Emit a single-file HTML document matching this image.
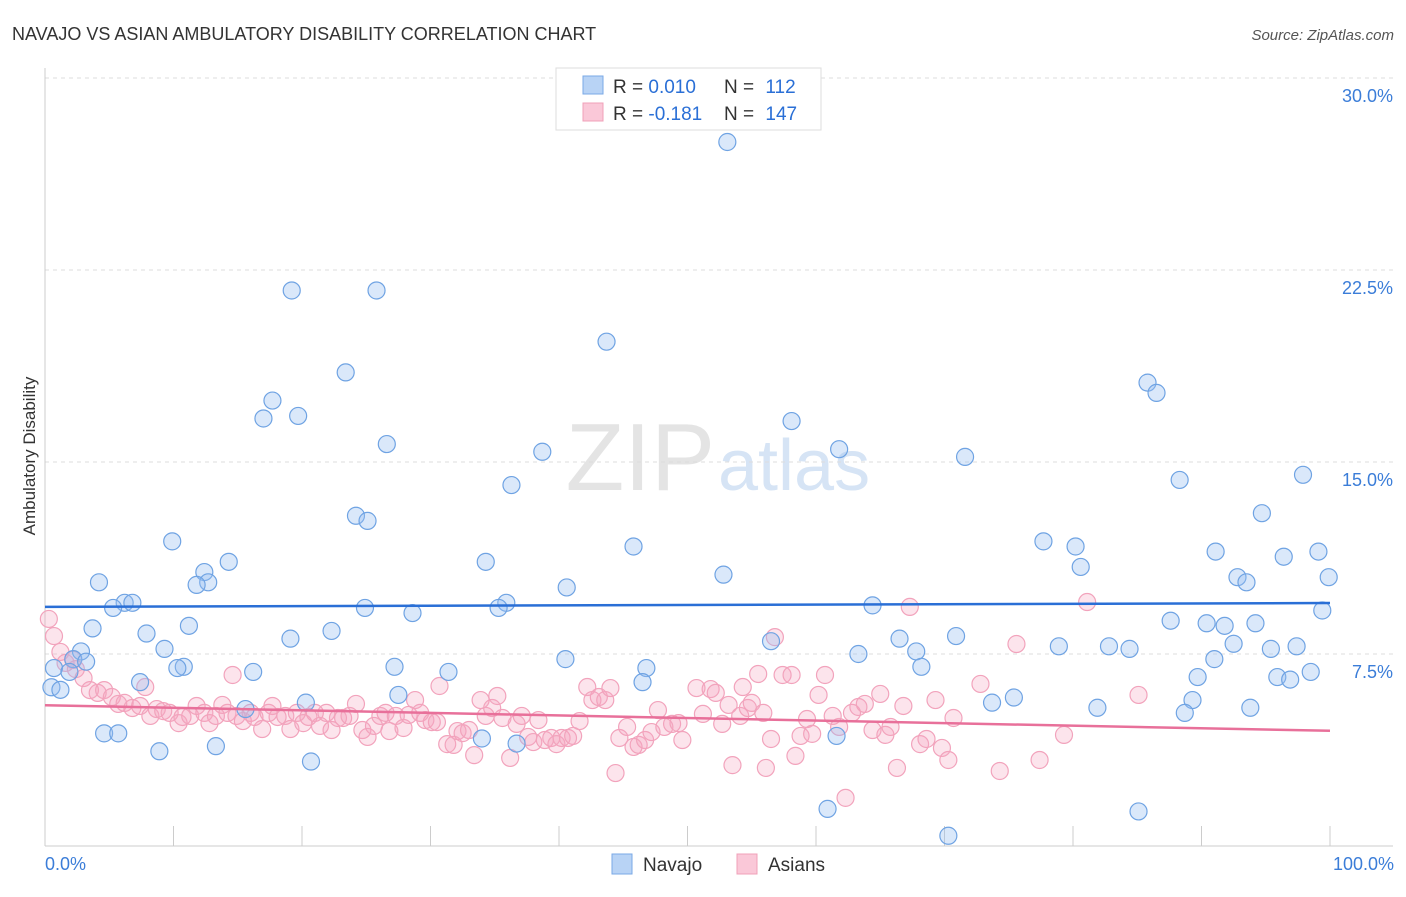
<!DOCTYPE html>
<html><head><meta charset="utf-8"><style>
body{margin:0;background:#fff;font-family:"Liberation Sans",sans-serif;}
svg text{font-family:"Liberation Sans",sans-serif;}
</style></head><body>
<svg id="chart" width="1406" height="892" xmlns="http://www.w3.org/2000/svg">
<text x="12" y="40" font-size="18" fill="#333">NAVAJO VS ASIAN AMBULATORY DISABILITY CORRELATION CHART</text>
<text x="1394" y="40" font-size="15" fill="#555" font-style="italic" text-anchor="end">Source: ZipAtlas.com</text>
<text x="715" y="490" font-size="96" fill="#e4e4e4" font-family="Liberation Serif" text-anchor="end">ZIP</text>
<text x="718" y="490" font-size="72" fill="#d6e4f5">atlas</text>
<g id="grid"></g>
<g id="axes"></g>
<g id="marks"></g>
<text x="35" y="456" font-size="17" fill="#333" text-anchor="middle" transform="rotate(-90 35 456)">Ambulatory Disability</text>
<text x="45" y="870" font-size="18" fill="#3b7dd8">0.0%</text>
<text x="1394" y="870" font-size="18" fill="#3b7dd8" text-anchor="end">100.0%</text>
<g>
<rect x="556" y="68" width="265" height="62" fill="#fff" stroke="#ddd"/>
<rect x="583" y="76" width="20" height="18" fill="#b8d3f5" stroke="#7aa8e6"/>
<rect x="583" y="103" width="20" height="18" fill="#fac8d8" stroke="#f0a0b8"/>
<text x="613" y="93" font-size="19" fill="#333">R = <tspan fill="#2a6fd6">0.010</tspan></text>
<text x="724" y="93" font-size="19" fill="#333">N = <tspan fill="#2a6fd6" dx="6">112</tspan></text>
<text x="613" y="120" font-size="19" fill="#333">R = <tspan fill="#2a6fd6">-0.181</tspan></text>
<text x="724" y="120" font-size="19" fill="#333">N = <tspan fill="#2a6fd6" dx="6">147</tspan></text>
</g>
<g>
<rect x="612" y="854" width="20" height="20" fill="#b8d3f5" stroke="#7aa8e6"/>
<text x="643" y="871" font-size="19" fill="#333">Navajo</text>
<rect x="737" y="854" width="20" height="20" fill="#fac8d8" stroke="#f0a0b8"/>
<text x="768" y="871" font-size="19" fill="#333">Asians</text>
</g>
</svg>
<script>
const yTicks=[7.5,15,22.5,30];
const yTickLabels=["7.5%","15.0%","22.5%","30.0%"];
const xTicks=[10,20,30,40,50,60,70,80,90,100];
const navajoX=[53.1,19.2,25.8,43.7,23.4,85.8,86.5,17.7,17.0,19.7,58.1,26.6,38.7,61.8,71.6,97.9,88.3,36.3,24.2,25.1,94.7,9.9,77.7,80.2,45.8,91.1,96.4,99.1,34.3,14.3,80.6,12.4,52.8,99.9,92.8,93.5,12.7,4.2,11.8,40.6,6.2,6.8,5.3,24.9,35.9,35.3,64.4,28.6,99.4,87.6,90.4,94.2,91.8,3.7,11.2,22.3,7.9,19.1,70.9,66.5,56.5,92.5,82.8,84.4,78.9,95.4,97.4,9.3,67.8,2.8,63.3,91.0,2.2,3.2,40.5,10.8,10.3,27.2,68.2,16.2,31.4,46.8,0.7,1.9,95.9,96.9,98.5,89.7,46.5,7.4,0.5,1.2,27.5,75.4,89.3,73.7,20.3,15.6,93.8,81.9,88.7,4.6,5.7,34.0,36.7,61.6,13.3,8.9,20.7,60.9,85.1,70.3];
const navajoY=[27.5,21.7,21.7,19.7,18.5,18.1,17.7,17.4,16.7,16.8,16.6,15.7,15.4,15.5,15.2,14.5,14.3,14.1,12.9,12.7,13.0,11.9,11.9,11.7,11.7,11.5,11.3,11.5,11.1,11.1,10.9,10.7,10.6,10.5,10.5,10.3,10.3,10.3,10.2,10.1,9.5,9.5,9.3,9.3,9.5,9.3,9.4,9.1,9.2,8.8,8.7,8.7,8.6,8.5,8.6,8.4,8.3,8.1,8.2,8.1,8.0,7.9,7.8,7.7,7.8,7.7,7.8,7.7,7.6,7.6,7.5,7.3,7.3,7.2,7.3,7.0,6.95,7.0,7.0,6.8,6.8,6.95,6.95,6.8,6.6,6.5,6.8,6.6,6.4,6.4,6.2,6.1,5.9,5.8,5.7,5.6,5.6,5.35,5.4,5.4,5.2,4.4,4.4,4.2,4.0,4.3,3.9,3.7,3.3,1.45,1.35,0.4];
const asianX=[0.3,0.7,1.2,1.6,2.2,2.4,3.0,3.5,4.1,4.6,5.2,5.7,6.2,6.8,7.4,7.8,8.2,8.7,9.2,9.7,10.4,10.7,11.3,11.8,12.4,12.8,13.3,13.8,14.2,14.6,14.9,15.4,16.0,16.3,16.9,17.4,17.7,18.1,18.7,19.1,19.6,20.1,20.5,21.0,21.4,21.9,22.3,22.8,23.2,23.7,24.2,24.7,25.1,25.6,26.1,26.5,26.8,27.3,27.9,28.3,28.8,29.2,29.6,30.1,30.5,30.7,31.3,31.8,32.1,32.5,33.0,33.4,33.9,34.3,34.8,35.2,35.6,36.2,36.7,37.1,37.6,38.0,38.4,38.9,39.4,39.8,40.2,40.7,41.1,41.6,42.2,42.6,43.1,43.6,44.0,44.4,44.7,45.3,45.8,46.2,46.7,47.2,47.7,48.2,48.8,49.3,49.6,50.7,51.2,51.8,52.2,52.7,53.2,53.5,54.1,54.3,54.7,55.0,55.5,55.9,56.1,56.5,56.8,57.4,58.1,58.4,58.8,59.3,59.7,60.2,60.7,61.3,61.8,62.3,62.8,63.3,63.8,64.4,65.0,65.4,65.8,66.3,66.8,67.3,68.1,68.6,69.3,69.8,70.3,70.7,72.8,74.3,75.6,77.4,79.3,81.1,85.1];
const asianY=[8.87,8.2,7.58,7.15,7.27,6.91,6.56,6.09,5.98,6.09,5.82,5.55,5.59,5.39,5.47,6.21,5.08,5.35,5.27,5.2,4.8,5.04,5.08,5.47,5.2,4.8,5.08,5.51,5.2,6.68,5.08,4.88,5.2,5.04,4.57,5.2,5.47,5.04,5.08,4.57,5.2,4.8,5.04,5.2,4.69,5.2,4.53,5.0,5.0,5.08,5.55,4.53,4.26,4.69,5.08,5.2,4.49,5.08,4.61,5.12,5.7,5.2,4.92,4.84,4.84,6.25,3.98,3.95,4.49,4.41,4.53,3.55,5.7,5.08,5.39,5.86,5.0,3.44,4.77,5.08,4.26,4.06,4.92,4.14,4.22,3.98,4.22,4.22,4.3,4.88,6.21,5.7,5.82,5.7,6.17,2.85,4.22,4.65,3.87,3.95,4.14,4.45,5.31,4.65,4.77,4.8,4.14,6.17,5.16,6.13,5.98,4.77,5.51,3.16,5.08,6.21,5.39,5.59,6.72,5.2,3.05,4.18,8.16,6.68,6.68,3.52,4.3,4.96,4.38,5.9,6.68,5.08,4.65,1.88,5.2,5.43,5.55,4.53,5.94,4.34,4.65,3.05,5.47,9.34,3.98,4.18,5.7,3.83,3.36,5.0,6.33,2.93,7.89,3.36,4.34,9.53,5.9];
const navajoTrend=[9.34,9.49];
const asianTrend=[5.5,4.5];
const NS="http://www.w3.org/2000/svg";
const X=v=>45+v*12.85, Y=v=>846-v*25.6;
function mk(tag,attrs,parent){const e=document.createElementNS(NS,tag);for(const k in attrs)e.setAttribute(k,attrs[k]);document.getElementById(parent).appendChild(e);return e;}
yTicks.forEach((t,i)=>{
 const l=mk('line',{x1:45,x2:1393,y1:Y(t),y2:Y(t),stroke:'#ddd','stroke-dasharray':'4,4'},'grid');
 
 
 const tx=mk('text',{x:1393,y:Y(t)+24,'font-size':18,fill:'#3b7dd8','text-anchor':'end'},'grid');
 tx.textContent=yTickLabels[i];
 
 
});
const ya=mk('line',{x1:45,x2:45,y1:68,y2:846,stroke:'#ccc'},'axes');


const xa=mk('line',{x1:45,x2:1393,y1:846,y2:846,stroke:'#ccc'},'axes');


xTicks.forEach(t=>{
 const l=mk('line',{x1:X(t),x2:X(t),y1:826,y2:846,stroke:'#ccc'},'axes');
 
 
});
asianX.forEach((x,i)=>{
 const c=mk('circle',{cx:X(x),cy:Y(asianY[i]),r:8.5,fill:'rgba(245,165,192,0.3)',stroke:'#f2a3bc','stroke-width':1.2},'marks');
 
 
});
navajoX.forEach((x,i)=>{
 const c=mk('circle',{cx:X(x),cy:Y(navajoY[i]),r:8.5,fill:'rgba(150,190,240,0.35)',stroke:'#6fa3e3','stroke-width':1.2},'marks');
 
 
});
const t1=mk('line',{x1:X(0),x2:X(100),y1:Y(navajoTrend[0]),y2:Y(navajoTrend[1]),stroke:'#2a6fd6','stroke-width':2.5},'marks');


const t2=mk('line',{x1:X(0),x2:X(100),y1:Y(asianTrend[0]),y2:Y(asianTrend[1]),stroke:'#e8709a','stroke-width':2.5},'marks');


</script>
</body></html>
